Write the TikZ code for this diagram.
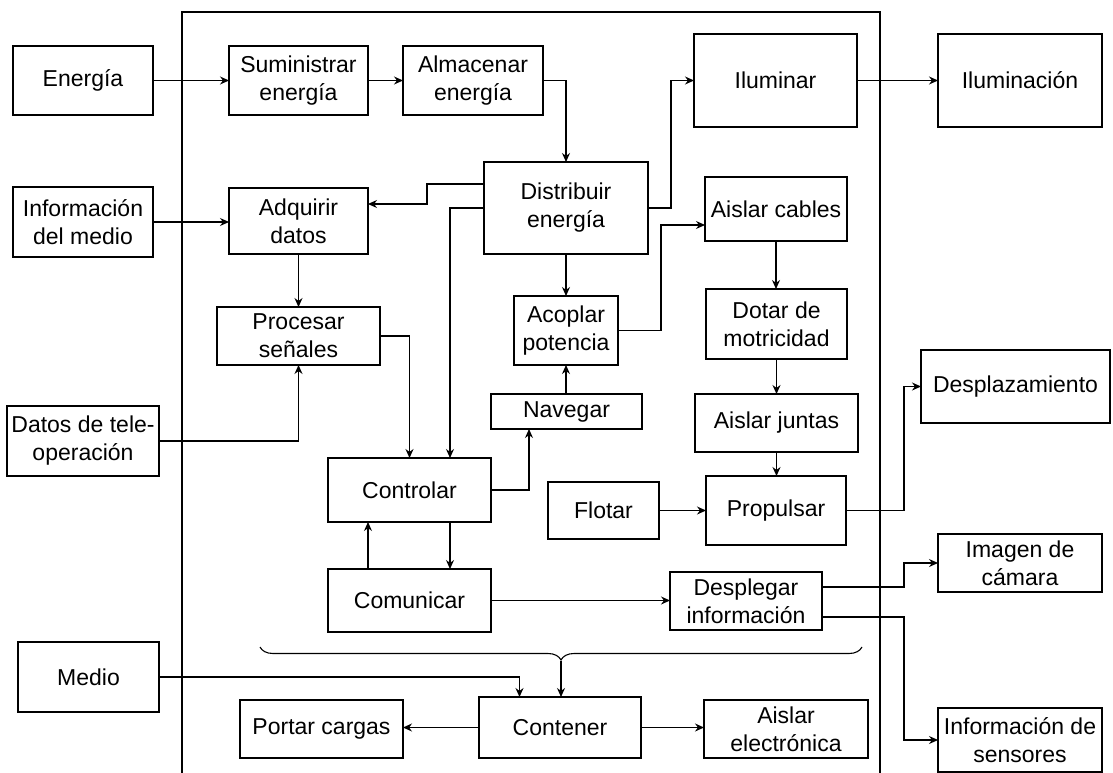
\documentclass[tikz,border=0pt]{standalone}
\usepackage{fontspec}
\setmainfont{Liberation Sans}
\usetikzlibrary{arrows.meta,calc,decorations.pathreplacing}
\tikzset{
  box/.style={draw, line width=1.1pt, inner sep=0pt, outer sep=0pt, align=center,
    font=\fontsize{23}{28}\selectfont},
  conn/.style={line width=1.1pt, -{Stealth[length=9pt,width=8pt]}},
  plain/.style={line width=1.1pt}
}
\begin{document}
\begin{tikzpicture}[x=1pt,y=-1pt]
\useasboundingbox (0,0) rectangle (1113,773);
% system frame
\draw[plain] (182,780) -- (182,12) -- (880,12) -- (880,780);
% boxes
\node[box, minimum width=140pt, minimum height=69pt] (en)  at (83,80.5) {Energía};
\node[box, minimum width=139pt, minimum height=69pt] (sum) at (298.5,80.5) {Suministrar\\energía};
\node[box, minimum width=140pt, minimum height=69pt] (alm) at (473,80.5) {Almacenar\\energía};
\node[box, minimum width=163pt, minimum height=93pt] (ilu) at (775.5,80.5) {Iluminar};
\node[box, minimum width=164pt, minimum height=93pt] (ilun) at (1020,80.5) {Iluminación};
\node[box, minimum width=140pt, minimum height=70pt] (inf) at (83,222) {Información\\del medio};
\node[box, minimum width=139pt, minimum height=66pt] (adq) at (298.5,221) {Adquirir\\datos};
\node[box, minimum width=164pt, minimum height=92pt] (dis) at (566,208) {Distribuir\\energía};
\node[box, minimum width=142pt, minimum height=64pt] (ais) at (776,209) {Aislar cables};
\node[box, minimum width=163pt, minimum height=58pt] (pro) at (298.5,336) {Procesar\\señales};
\node[box, minimum width=104pt, minimum height=69pt] (aco) at (566,330.5) {Acoplar\\potencia};
\node[box, minimum width=141pt, minimum height=70pt] (dot) at (776.5,324) {Dotar de\\motricidad};
\node[box, minimum width=151pt, minimum height=35pt] (nav) at (566.5,411.5) {Navegar};
\node[box, minimum width=163pt, minimum height=58pt] (aij) at (776.5,423) {Aislar juntas};
\node[box, minimum width=152pt, minimum height=70pt] (dat) at (83,441) {Datos de tele-\\operación};
\node[box, minimum width=163pt, minimum height=64pt] (ctl) at (409.5,490) {Controlar};
\node[box, minimum width=111pt, minimum height=57pt] (flo) at (603.5,510.5) {Flotar};
\node[box, minimum width=140pt, minimum height=69pt] (prp) at (776,510.5) {Propulsar};
\node[box, minimum width=189pt, minimum height=73pt] (des) at (1015.5,386.5) {Desplazamiento};
\node[box, minimum width=163pt, minimum height=63pt] (com) at (409.5,600.5) {Comunicar};
\node[box, minimum width=152pt, minimum height=58pt] (dsp) at (746,601) {Desplegar\\información};
\node[box, minimum width=164pt, minimum height=58pt] (img) at (1020,563) {Imagen de\\cámara};
\node[box, minimum width=141pt, minimum height=70pt] (med) at (88.5,677) {Medio};
\node[box, minimum width=163pt, minimum height=58pt] (por) at (321.5,729) {Portar cargas};
\node[box, minimum width=162pt, minimum height=61pt] (con) at (560,727.5) {Contener};
\node[box, minimum width=164pt, minimum height=58pt] (aie) at (786,729) {Aislar\\electrónica};
\node[box, minimum width=164pt, minimum height=64pt] (ins) at (1020,740) {Información de\\sensores};
% brace
\draw[plain, decorate, decoration={brace, amplitude=13pt}] (862,647) -- (260,647);
\coordinate (btip) at (561,661);
% connectors
\draw[conn] (en.east) -- (sum.west);
\draw[conn] (sum.east) -- (alm.west);
\draw[conn] (alm.east) -| (dis.north);
\draw[conn] (ilu.east) -- (ilun.west);
\draw[conn] (dis.east) -- ++(23,0) |- (ilu.west);
\draw[conn] (inf.east) -- (inf.east -| adq.west);
\draw[conn] ($(dis.west)+(0,-24)$) -- ++(-57,0) |- ($(adq.east)+(0,-17)$);
\draw[conn] (dis.west) -| ($(ctl.north)+(40.5,0)$);
\draw[conn] (dis.south) -- (aco.north);
\draw[conn] (aco.east) -- ++(43,0) |- ($(ais.west)+(0,16)$);
\draw[conn] (ais.south) -- (ais.south |- dot.north);
\draw[conn] (dot.south) -- (dot.south |- aij.north);
\draw[conn] (aij.south) -- (aij.south |- prp.north);
\draw[conn] (flo.east) -- (prp.west);
\draw[conn] (prp.east) -- ++(58,0) |- (des.west);
\draw[conn] (adq.south) -- (pro.north);
\draw[conn] (dat.east) -| (pro.south);
\draw[conn] (pro.east) -| (ctl.north);
\draw[conn] (ctl.east) -| ($(nav.south)+(-37.5,0)$);
\draw[conn] (nav.north) -- (nav.north -| aco.south) -- (aco.south);
\draw[conn] ($(com.north)+(-41.5,0)$) -- ($(ctl.south)+(-41.5,0)$);
\draw[conn] ($(ctl.south)+(40.5,0)$) -- ($(com.north)+(40.5,0)$);
\draw[conn] (com.east) -- (com.east -| dsp.west);
\draw[conn] ($(dsp.east)+(0,-14)$) -- ++(82,0) |- (img.west);
\draw[conn] ($(dsp.east)+(0,16)$) -- ++(82,0) |- (ins.west);
\draw[conn] (med.east) -| ($(con.north)+(-40.5,0)$);
\draw[conn] (btip) -- (btip |- con.north);
\draw[conn] (con.west) -- (con.west -| por.east);
\draw[conn] (con.east) -- (con.east -| aie.west);
\end{tikzpicture}
\end{document}
